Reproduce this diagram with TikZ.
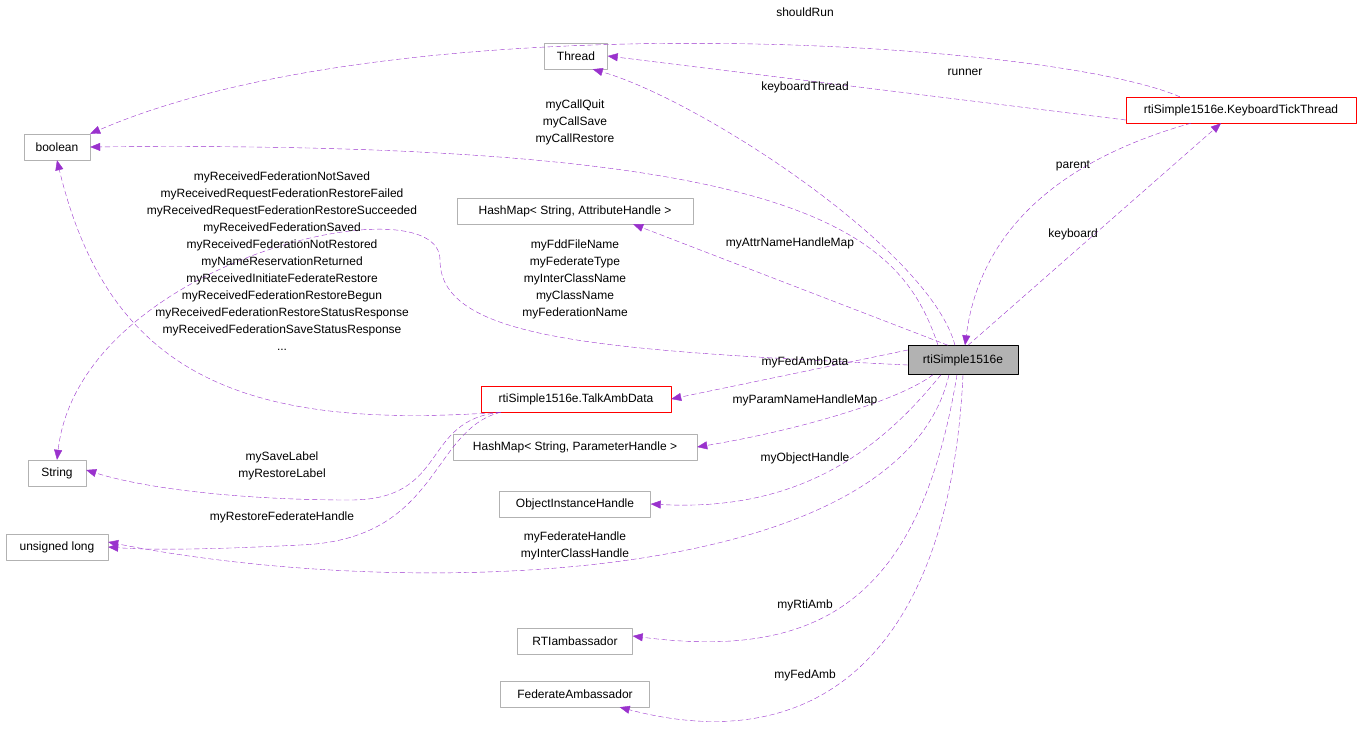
\documentclass[tikz,border=0pt]{standalone}
\usepackage{fontspec}
\setmainfont{Liberation Sans}
\usetikzlibrary{arrows.meta}
\definecolor{relcol}{HTML}{9A32CD}
\begin{document}
\begin{tikzpicture}[x=1pt,y=-1pt,line cap=round,line join=round,
  cls/.style={draw=black!30,fill=white,minimum height=26pt,inner sep=3pt,font=\fontsize{12}{17}\selectfont},
  red/.style={cls,draw=red},
  main/.style={cls,draw=black,fill=black!30,minimum height=29pt},
  rel/.style={draw=relcol,dashed,dash pattern=on 5pt off 3pt,-{Triangle[length=10pt,width=8pt,fill=relcol]}},
  lbl/.style={font=\fontsize{12}{17}\selectfont,align=center,inner sep=0pt}]
\useasboundingbox (0,0) rectangle (1363,732);
\node[cls,minimum width=63pt] (thread) at (576,56) {Thread};
\node[cls,minimum width=66pt] (bool) at (57,147) {boolean};
\node[cls,minimum width=58pt] (str) at (57,473) {String};
\node[cls,minimum width=102pt] (ulong) at (57,547) {unsigned long};
\node[red,minimum width=230pt] (ktt) at (1241,110) {rtiSimple1516e.KeyboardTickThread};
\node[cls,minimum width=236pt] (hattr) at (575,211) {HashMap< String, AttributeHandle >};
\node[main,minimum width=110pt] (rti) at (963,360) {rtiSimple1516e};
\node[red,minimum width=190pt] (talk) at (576,399) {rtiSimple1516e.TalkAmbData};
\node[cls,minimum width=244pt] (hparam) at (575,447) {HashMap< String, ParameterHandle >};
\node[cls,minimum width=151pt] (oih) at (575,504) {ObjectInstanceHandle};
\node[cls,minimum width=115pt] (rtia) at (575,641) {RTIambassador};
\node[cls,minimum width=149pt] (feda) at (575,694) {FederateAmbassador};
% relations
\draw[rel] ([xshift=54pt]ktt.north west) .. controls (1050,40) and (400,0) .. (bool.north east);
\draw[rel] ([yshift=-10pt]ktt.west) -- (thread.east);
\draw[rel] ([xshift=-8pt]rti.north) .. controls (930,250) and (700,100) .. ([xshift=-15pt]thread.south east);
\draw[rel] ([xshift=-25pt]rti.north) .. controls (900,230) and (800,140) .. (bool.east);
\draw[rel] ([xshift=-15pt]rti.north) -- ([xshift=-60pt]hattr.south east);
\draw[rel] ([xshift=5pt]rti.north) -- ([xshift=-20pt]ktt.south);
\draw[rel] ([xshift=-50pt]ktt.south) .. controls (1060,160) and (980,230) .. ([xshift=2pt]rti.north);
\draw[rel] ([yshift=-5pt]rti.west) .. controls (600,350) and (440,340) .. (440,260) .. controls (440,180) and (80,260) .. (str.north);
\draw[rel] ([xshift=20pt]talk.south west) .. controls (250,430) and (110,380) .. (bool.south);
\draw[rel] ([yshift=10pt]rti.west) -- (talk.east);
\draw[rel] ([xshift=-30pt]rti.south) .. controls (900,400) and (800,430) .. (hparam.east);
\draw[rel] ([xshift=-22pt]rti.south) .. controls (880,450) and (800,512) .. (oih.east);
\draw[rel] ([xshift=-14pt]rti.south) .. controls (900,590) and (400,600) .. ([yshift=5pt]ulong.east);
\draw[rel] ([xshift=20pt]talk.south west) .. controls (420,420) and (450,500) .. (350,500) .. controls (250,500) and (150,490) .. ([yshift=3pt]str.east);
\draw[rel] ([xshift=20pt]talk.south west) .. controls (430,430) and (440,540) .. (300,545) .. controls (200,550) and (150,550) .. (ulong.east);
\draw[rel] ([xshift=-6pt]rti.south) .. controls (920,600) and (820,660) .. ([yshift=5pt]rtia.east);
\draw[rel] (rti.south) .. controls (950,650) and (820,760) .. ([xshift=-30pt]feda.south east);
% labels
\node[lbl] (l1) at (805,12) {shouldRun};
\node[lbl] (l2) at (965,72) {runner};
\node[lbl] (l3) at (805,87) {keyboardThread};
\node[lbl] (l4) at (575,122) {myCallQuit\\myCallSave\\myCallRestore};
\node[lbl] (l5) at (1073,166) {parent};
\node[lbl] (l6) at (1073,234) {keyboard};
\node[lbl] (l7) at (790,243) {myAttrNameHandleMap};
\node[lbl] (l8) at (575,279) {myFddFileName\\myFederateType\\myInterClassName\\myClassName\\myFederationName};
\node[lbl] (l9) at (282,261) {myReceivedFederationNotSaved\\myReceivedRequestFederationRestoreFailed\\myReceivedRequestFederationRestoreSucceeded\\myReceivedFederationSaved\\myReceivedFederationNotRestored\\myNameReservationReturned\\myReceivedInitiateFederateRestore\\myReceivedFederationRestoreBegun\\myReceivedFederationRestoreStatusResponse\\myReceivedFederationSaveStatusResponse\\...};
\node[lbl] (l10) at (805,362) {myFedAmbData};
\node[lbl] (l11) at (805,400) {myParamNameHandleMap};
\node[lbl] (l12) at (805,458) {myObjectHandle};
\node[lbl] (l13) at (282,466) {mySaveLabel\\myRestoreLabel};
\node[lbl] (l14) at (282,517) {myRestoreFederateHandle};
\node[lbl] (l15) at (575,546) {myFederateHandle\\myInterClassHandle};
\node[lbl] (l16) at (805,605) {myRtiAmb};
\node[lbl] (l17) at (805,675) {myFedAmb};
\end{tikzpicture}
\end{document}
